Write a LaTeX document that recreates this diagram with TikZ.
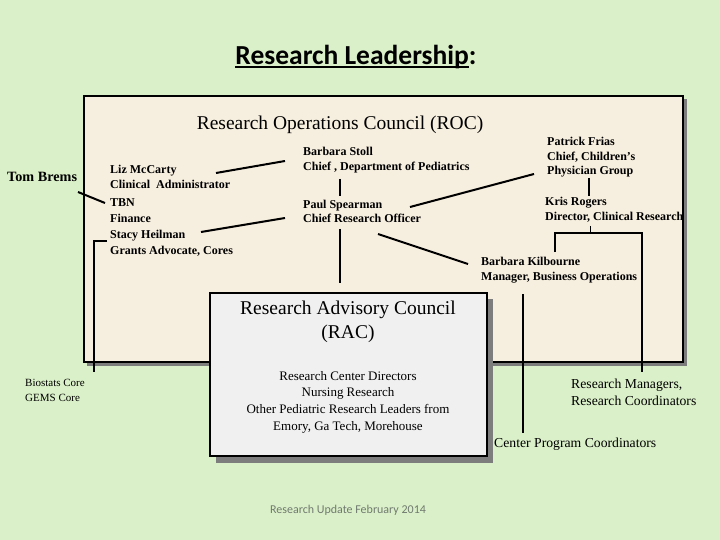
\documentclass[tikz,border=0pt]{standalone}
\usepackage{fontspec}
\setmainfont{Liberation Serif}
\newfontfamily\carl{Carlito}
\definecolor{bg}{RGB}{218,240,200}
\definecolor{rocfill}{RGB}{246,238,222}
\definecolor{racfill}{RGB}{240,240,240}
\definecolor{shadowc}{RGB}{125,125,125}
\definecolor{footc}{RGB}{112,122,112}
\begin{document}
\begin{tikzpicture}[x=1pt,y=-1pt,
  person/.style={anchor=west,inner sep=0pt,align=left,font=\bfseries\fontsize{12}{14.5}\selectfont},
  plain/.style={inner sep=0pt,font=\fontsize{13.7}{17}\selectfont},
  conn/.style={line width=2pt},
  boxframe/.style={draw=black,line width=2pt}]
\fill[bg] (0,0) rectangle (720,540);
\useasboundingbox (0,0) rectangle (720,540);
% title
\node[inner sep=0pt,font=\carl\bfseries\fontsize{27.5}{32}\selectfont] (title) at (356,57)
  {{\setbox0\hbox{Research Leadership}\rlap{\rule[-4pt]{\wd0}{2pt}}\box0}:};
% ROC box
\fill[shadowc] (87,99) rectangle (687,366);
\draw[boxframe,fill=rocfill] (84,96) rectangle (683,362);
\node[inner sep=0pt,font=\fontsize{19.5}{23}\selectfont] (roc) at (340,125) {Research Operations Council (ROC)};
% RAC box
\fill[shadowc] (216,299) rectangle (493,463);
\draw[boxframe,fill=racfill] (210,293) rectangle (487,456);
\node[inner sep=0pt,align=center,font=\fontsize{19.5}{24}\selectfont] (rac) at (348,322) {Research Advisory Council\\(RAC)};
\node[inner sep=0pt,align=center,font=\fontsize{13}{16.7}\selectfont] (racbody) at (348,402)
  {Research Center Directors\\Nursing Research\\Other Pediatric Research Leaders from\\Emory, Ga Tech, Morehouse};
% people
\node[person,font=\bfseries\fontsize{14.2}{16}\selectfont] (tom) at (7,177) {Tom Brems};
\node[person] (liz) at (110,177) {Liz McCarty\\Clinical\ \ Administrator};
\node[person,font=\bfseries\fontsize{12}{16.3}\selectfont] (tbn) at (110,227.5) {TBN\\Finance\\Stacy Heilman\\Grants Advocate, Cores};
\node[person,font=\bfseries\fontsize{12}{15}\selectfont] (stoll) at (303,160.5) {Barbara Stoll\\Chief , Department of Pediatrics};
\node[person,font=\bfseries\fontsize{12}{13.5}\selectfont] (paul) at (303,211.5) {Paul Spearman\\Chief Research Officer};
\node[person] (frias) at (547,157.5) {Patrick Frias\\Chief, Children's\\Physician Group};
\node[person] (kris) at (545,210) {Kris Rogers\\Director, Clinical Research};
\node[person] (kilb) at (481,270) {Barbara Kilbourne\\Manager, Business Operations};
% outside labels
\node[plain,anchor=west,align=left,font=\fontsize{11}{15}\selectfont] (bio) at (25,390.5) {Biostats Core\\GEMS Core};
\node[plain,anchor=west,align=left] (mgr) at (571,392.5) {Research Managers,\\Research Coordinators};
\node[plain,anchor=west] (cpc) at (494,444) {Center Program Coordinators};
\node[inner sep=0pt,text=footc,font=\carl\fontsize{12}{14}\selectfont] (foot) at (348,510) {Research Update February 2014};
% connector end points
\coordinate (lizR) at (216,173); \coordinate (stollL) at (285,161);
\coordinate (tomR) at (78,192); \coordinate (tbnL) at (105,203);
\coordinate (stacyR) at (201,232); \coordinate (paulL) at (285,218);
\coordinate (stollB) at (340,179); \coordinate (paulT) at (340,196);
\coordinate (paulB) at (340,229); \coordinate (racT) at (340,283);
\coordinate (paulR) at (410,207); \coordinate (friasL) at (534,174);
\coordinate (paulBR) at (378,234); \coordinate (kilbL) at (468,264);
\coordinate (friasB) at (589,178); \coordinate (krisT) at (589,196);
\coordinate (krisB) at (590,226); \coordinate (krisJ) at (590,233);
\coordinate (brL) at (555,233); \coordinate (brR) at (642,233);
\coordinate (kilbT) at (555,252); \coordinate (mgrT) at (642,372);
\coordinate (kilbB) at (523,294); \coordinate (cpcT) at (523,433);
\coordinate (stacyL) at (107,241); \coordinate (stacyC) at (94,241); \coordinate (bioT) at (94,372);
% connectors
\draw[conn] (lizR) -- (stollL);
\draw[conn] (tomR) -- (tbnL);
\draw[conn] (stacyR) -- (paulL);
\draw[conn] (stollB) -- (paulT);
\draw[conn] (paulB) -- (racT);
\draw[conn] (paulR) -- (friasL);
\draw[conn] (paulBR) -- (kilbL);
\draw[conn] (friasB) -- (krisT);
\draw[line width=1pt] (krisB) -- (krisJ);
\draw[conn] (kilbT) -- (brL) -- (brR) -- (mgrT);
\draw[conn] (kilbB) -- (cpcT);
\draw[conn] (stacyL) -- (stacyC) -- (bioT);
\end{tikzpicture}
\end{document}
